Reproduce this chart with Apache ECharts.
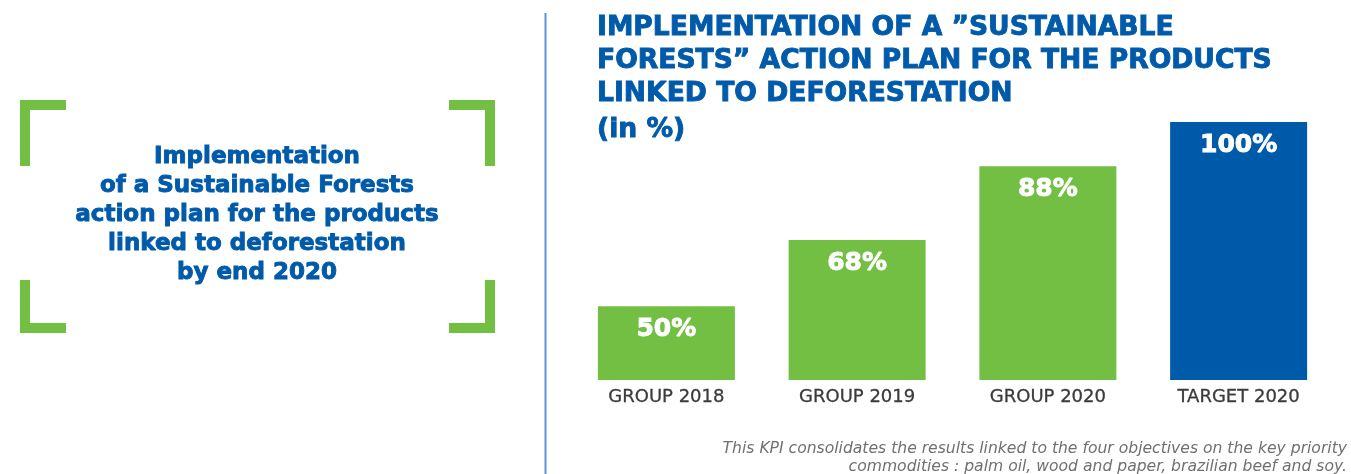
<!DOCTYPE html>
<html>
<head>
<meta charset="utf-8">
<title>Sustainable Forests action plan</title>
<script src="https://cdn.jsdelivr.net/npm/echarts@6/dist/echarts.min.js"></script>
<style>
  html, body { margin: 0; padding: 0; background: #ffffff; }
  #chart { width: 1351px; height: 474px; }
</style>
</head>
<body>
<div id="chart"></div>
<script>
// Share of the action plan implemented, per year, and the 2020 target (in %)
const categories = ['GROUP 2018', 'GROUP 2019', 'GROUP 2020', 'TARGET 2020'];
const values = [50, 68, 88, 100];

const titleLines = [
  'IMPLEMENTATION OF A \u201DSUSTAINABLE',
  'FORESTS\u201D ACTION PLAN FOR THE PRODUCTS',
  'LINKED TO DEFORESTATION'
];
const unitLine = '(in %)';
const boxLines = [
  'Implementation',
  'of a Sustainable Forests',
  'action plan for the products',
  'linked to deforestation',
  'by end 2020'
];
const noteLines = [
  'This KPI consolidates the results linked to the four objectives on the key priority',
  'commodities : palm oil, wood and paper, brazilian beef and soy.'
];

const GREEN = '#72bf44';
const BLUE = '#005aaa';
const BOLD = 'DejaVu Sans';

// green corner brackets around the commitment text
function bracketRects() {
  const t = 10, arm = 46, vTop = 66, vBot = 53;
  const L = 20, R = 495, T = 100, B = 333;
  const r = (x, y, w, h) => ({ type: 'rect', shape: { x, y, width: w, height: h }, style: { fill: GREEN }, silent: true });
  return [
    r(L, T, arm, t), r(L, T, t, vTop),
    r(L, B - vBot, t, vBot), r(L, B - t, arm, t),
    r(R - arm, T, arm, t), r(R - t, T, t, vTop),
    r(R - t, B - vBot, t, vBot), r(R - arm, B - t, arm, t)
  ];
}

// heavy headline text: bold face plus a thin outline in the same colour
const heavy = (color, size, lh) => ({
  fontFamily: BOLD, fontWeight: 'bold', fontSize: size, lineHeight: lh,
  color: color, textBorderColor: color, textBorderWidth: 0.9
});

const chart = echarts.init(document.getElementById('chart'), null, { renderer: 'canvas' });

chart.setOption({
  animation: false,
  backgroundColor: '#ffffff',
  title: {
    text: titleLines.join('\n'),
    subtext: unitLine,
    left: 592,
    top: 7,
    itemGap: 3,
    textStyle: heavy(BLUE, 26.6, 33),
    subtextStyle: heavy(BLUE, 26.6, 33)
  },
  grid: { left: 571, right: 17, top: 122, bottom: 94 },
  xAxis: {
    type: 'category',
    data: categories,
    axisLine: { show: false },
    axisTick: { show: false },
    axisLabel: {
      margin: 8, fontFamily: 'DejaVu Sans', fontSize: 18, color: '#3a3a3a',
      textBorderColor: '#3a3a3a', textBorderWidth: 0.3
    }
  },
  yAxis: {
    type: 'value',
    min: 30,
    max: 100,
    show: false,
    splitLine: { show: false }
  },
  series: [{
    type: 'bar',
    data: values,
    barWidth: 137,
    itemStyle: {
      color: p => (p.name.indexOf('TARGET') === 0 ? BLUE : GREEN)
    },
    label: Object.assign({
      show: true,
      position: 'insideTop',
      distance: 11,
      formatter: p => p.value + '%'
    }, heavy('#ffffff', 25, 25))
  }],
  graphic: [
    ...bracketRects(),
    {
      type: 'text',
      silent: true,
      x: 257,
      y: 215,
      style: {
        text: boxLines.join('\n'),
        align: 'center',
        verticalAlign: 'middle',
        fontFamily: BOLD,
        fontWeight: 'bold',
        fontSize: 23,
        lineHeight: 29,
        fill: BLUE,
        stroke: BLUE,
        lineWidth: 0.9
      }
    },
    {
      type: 'line',
      silent: true,
      shape: { x1: 545.5, y1: 13, x2: 545.5, y2: 474 },
      style: { stroke: '#5b95d3', lineWidth: 2 }
    },
    {
      type: 'text',
      silent: true,
      x: 1347,
      y: 458,
      style: {
        text: noteLines.join('\n'),
        align: 'right',
        verticalAlign: 'middle',
        fontFamily: 'DejaVu Sans',
        fontStyle: 'italic',
        fontSize: 15.6,
        lineHeight: 18,
        fill: '#707070'
      }
    }
  ]
});
</script>
</body>
</html>
